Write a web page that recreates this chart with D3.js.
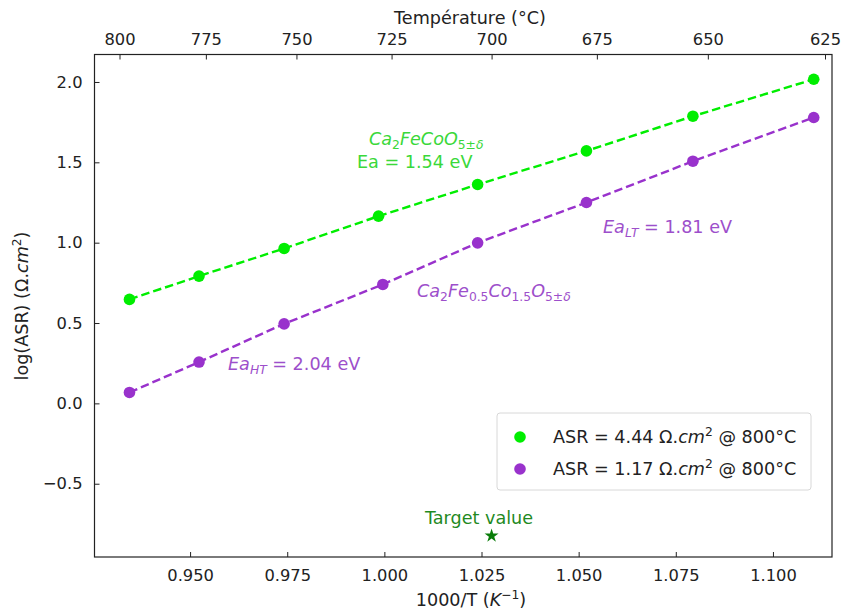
<!DOCTYPE html>
<html>
<head>
<meta charset="utf-8">
<script src="https://cdn.jsdelivr.net/npm/d3@7"></script>
<style>
  html, body { margin: 0; padding: 0; background: #fff; }
  svg { display: block; font-family: "DejaVu Sans", sans-serif; }
</style>
</head>
<body>
<svg id="chart" width="842" height="613"></svg>
<script>
// ---------------- data ----------------
const tempTicks = [800, 775, 750, 725, 700, 675, 650, 625];
const xTicks = [0.950, 0.975, 1.000, 1.025, 1.050, 1.075, 1.100];
const yTicks = [-0.5, 0.0, 0.5, 1.0, 1.5, 2.0];

const invTGreen = [0.9344, 0.9523, 0.9742, 0.9985, 1.0240, 1.0520, 1.0794, 1.1105];
const logGreen  = [0.647, 0.792, 0.964, 1.165, 1.362, 1.571, 1.787, 2.017];

const invTPurple = [0.9344, 0.9523, 0.9742, 0.9996, 1.0240, 1.0520, 1.0794, 1.1105];
const logPurple  = [0.068, 0.257, 0.495, 0.740, 0.999, 1.250, 1.507, 1.779];

const targetInvT = [1000 / (700 + 273.15)];
const targetLog = [-0.824];

const legendLabels = ["4.44", "1.17"];

// ---------------- layout ----------------
const W = 842, H = 613;
const m = { left: 94.5, right: 832, top: 54.5, bottom: 557 };
const FS = 16.3;     // tick labels
const FT = 17.6;     // titles / annotations / legend
const GREEN = "#00ee00", PURPLE = "#9932cc";

const svg = d3.select("#chart");
const x = d3.scaleLinear().domain([0.9254, 1.1152]).range([m.left, m.right]);
const y = d3.scaleLinear().domain([-0.956, 2.171]).range([m.bottom, m.top]);

// rich text helper
function rich(g, parts, fs) {
  let shift = 0;
  parts.forEach(p => {
    const [t, st] = p;
    let target = 0, size = fs, italic = false;
    if (st && st.includes("sub")) { target = 0.22 * fs; size = 0.7 * fs; }
    if (st && st.includes("sup")) { target = -0.42 * fs; size = 0.7 * fs; }
    if (st && st.includes("i")) italic = true;
    const ts = g.append("tspan").text(t).attr("font-size", size)
      .attr("dy", target - shift);
    if (italic) ts.attr("font-style", "italic");
    shift = target;
  });
  return g;
}

// ---------------- axes ----------------
const gx = svg.append("g").attr("transform", `translate(0,${m.bottom})`)
  .call(d3.axisBottom(x).tickValues(xTicks).tickFormat(d3.format(".3f"))
    .tickSizeInner(-5).tickSizeOuter(0).tickPadding(12));
const gy = svg.append("g").attr("transform", `translate(${m.left},0)`)
  .call(d3.axisLeft(y).tickValues(yTicks).tickFormat(d => d3.format(".1f")(d).replace("-", "\u2212"))
    .tickSizeInner(-5).tickSizeOuter(0).tickPadding(12));
const gt = svg.append("g").attr("transform", `translate(0,${m.top})`)
  .call(d3.axisTop(x).tickValues(tempTicks.map(t => 1000 / (t + 273.15)))
    .tickFormat((d, i) => tempTicks[i]).tickSizeInner(-5).tickSizeOuter(0).tickPadding(10));
[gx, gy, gt].forEach(g => {
  g.select(".domain").remove();
  g.selectAll("text").attr("font-size", FS).attr("fill", "#222").attr("font-family", "DejaVu Sans");
  g.selectAll("line").attr("stroke", "#222");
});
svg.append("rect").attr("x", m.left).attr("y", m.top)
  .attr("width", m.right - m.left).attr("height", m.bottom - m.top)
  .attr("fill", "none").attr("stroke", "#222").attr("stroke-width", 1.2);

// axis titles
rich(svg.append("text").attr("x", 470).attr("y", 24).attr("text-anchor", "middle").attr("fill", "#222"),
  [["Température (°C)"]], FT);
rich(svg.append("text").attr("x", 471).attr("y", 606).attr("text-anchor", "middle").attr("fill", "#222"),
  [["1000/T  ("], ["K", "i"], ["\u22121", "sup"], [")"]], FT);
rich(svg.append("text").attr("transform", "translate(28,306) rotate(-90)").attr("text-anchor", "middle").attr("fill", "#222"),
  [["log(ASR) (Ω."], ["cm", "i"], ["2", "sup"], [")"]], FT);

// ---------------- series ----------------
const line = d3.line().x(d => x(d[0])).y(d => y(d[1]));
function series(xs, ys, color) {
  const pts = xs.map((v, i) => [v, ys[i]]);
  svg.append("path").datum(pts).attr("d", line).attr("fill", "none")
    .attr("stroke", color).attr("stroke-width", 2.4).attr("stroke-dasharray", "8.5,4");
  svg.append("g").selectAll("circle").data(pts).join("circle")
    .attr("cx", d => x(d[0])).attr("cy", d => y(d[1])).attr("r", 5.8).attr("fill", color);
}
series(invTGreen, logGreen, GREEN);
series(invTPurple, logPurple, PURPLE);

// target
svg.append("path").attr("d", d3.symbol(d3.symbolStar, 60)())
  .attr("transform", `translate(${x(targetInvT[0])},${y(targetLog[0])})`).attr("fill", "#0a7d0a");
svg.append("text").attr("x", 479).attr("y", 524).attr("text-anchor", "middle")
  .attr("font-size", FT).attr("fill", "#1f8a1f").text("Target value");

// ---------------- annotations ----------------
const GTXT = "#3ad83a", PTXT = "#9d4fcb";
rich(svg.append("text").attr("x", 369).attr("y", 145).attr("fill", GTXT),
  [["Ca", "i"], ["2", "sub"], ["FeCoO", "i"], ["5±", "sub"], ["δ", "subi"]], FT);
rich(svg.append("text").attr("x", 357).attr("y", 168).attr("fill", GTXT),
  [["Ea = 1.54 eV"]], FT);
rich(svg.append("text").attr("x", 417).attr("y", 297).attr("fill", PTXT),
  [["Ca", "i"], ["2", "sub"], ["Fe", "i"], ["0.5", "sub"], ["Co", "i"], ["1.5", "sub"], ["O", "i"], ["5±", "sub"], ["δ", "subi"]], FT);
rich(svg.append("text").attr("x", 228).attr("y", 370).attr("fill", PTXT),
  [["Ea", "i"], ["HT", "subi"], [" = 2.04 eV"]], FT);
rich(svg.append("text").attr("x", 603).attr("y", 233).attr("fill", PTXT),
  [["Ea", "i"], ["LT", "subi"], [" = 1.81 eV"]], FT);

// ---------------- legend ----------------
const lg = svg.append("g");
lg.append("rect").attr("x", 497).attr("y", 413).attr("width", 314).attr("height", 77)
  .attr("rx", 3).attr("fill", "#fff").attr("stroke", "#d8d8d8");
[GREEN, PURPLE].forEach((c, i) => {
  const yy = 437 + i * 32;
  lg.append("circle").attr("cx", 520).attr("cy", yy).attr("r", 5.8).attr("fill", c);
  rich(lg.append("text").attr("x", 553).attr("y", yy + 6).attr("fill", "#222"),
    [["ASR = " + legendLabels[i] + " Ω."], ["cm", "i"], ["2", "sup"], [" @ 800°C"]], FT);
});
</script>
</body>
</html>
